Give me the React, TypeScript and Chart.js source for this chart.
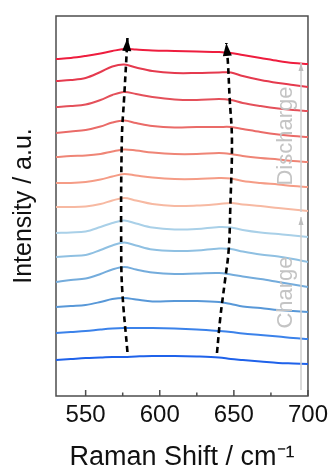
import React, { useEffect, useRef } from "react";
import { Chart, registerables } from "chart.js";

Chart.register(...registerables);

// Raman shift sampling positions (cm-1)
const ramanShift = [530, 540, 550, 560, 568, 576, 584, 595, 610, 625, 640, 648, 656, 668, 680, 690, 700];

// Spectra, stacked (arbitrary intensity incl. offset), bottom (s01) to top (s13)
const s01 = [36, 37, 38, 38.5, 39, 39, 39.5, 40, 40, 39.5, 38.5, 37, 36, 34.5, 33, 32.5, 32];
const s02 = [63, 64, 65, 66.5, 67.5, 68, 68, 68, 67.5, 66.5, 65, 64, 62.5, 61, 59.5, 58, 57];
const s03 = [89, 90, 91, 94, 97, 98, 96.5, 94.5, 95, 95, 94, 92, 89.5, 88, 86, 85, 84];
const s04 = [114, 116, 117.5, 122, 126.5, 129, 126.5, 123.5, 122, 122.5, 123, 121.5, 119.5, 117, 114, 111.5, 109];
const s05 = [139, 140, 141, 146, 150.5, 153.5, 150.5, 146.5, 145, 145.5, 147.5, 147, 144.5, 141.5, 139.5, 137, 134];
const s06 = [163, 163.5, 164.5, 169, 173, 175.5, 172.5, 168.5, 166.5, 167, 169, 168.5, 166, 163.5, 162, 160.5, 159];
const s07 = [189, 189, 189.5, 192, 195.5, 198, 195.5, 192, 190, 190.5, 192, 193, 191.5, 190, 188, 186.5, 185];
const s08 = [213, 213, 214, 216.5, 219.5, 222, 220.5, 218.5, 217, 217, 218, 217.5, 215, 213, 211.5, 210, 209];
const s09 = [239, 240, 240.5, 242, 244.5, 246.5, 245.5, 243.5, 242, 242, 243, 242, 240, 238, 236.5, 235, 234];
const s10 = [263, 264.5, 266, 269.5, 273.5, 275.5, 273, 270, 268.5, 269, 269, 269, 267, 264, 261.5, 260, 259];
const s11 = [289, 290, 291.5, 296, 301, 304, 302, 299, 296.5, 296, 297, 296, 293, 290, 287.5, 286, 285];
const s12 = [315, 316, 318, 324, 329.5, 331.5, 328.5, 325, 323, 323, 323.5, 323.5, 320, 316, 313, 311, 309];
const s13 = [337, 338, 340, 342.5, 345, 347, 346.5, 345.5, 345, 344.5, 344, 343, 341, 338, 335, 333, 332];

const spectra = [s01, s02, s03, s04, s05, s06, s07, s08, s09, s10, s11, s12, s13];
const spectrumColors = [
  "#1f62ea", "#3b82ea", "#5898d8", "#74acdc", "#8fc0e2", "#a9d0e8",
  "#f7b9a2", "#f59c86", "#ef8576", "#ea6b68", "#e4505a", "#e53a4e", "#ee1d3e",
];

// Axis ticks
const xTickValues = [550, 600, 650, 700];
const xMinorTickValues = [575, 625, 675];

// Dashed guide arrows (peak shift), bottom to top
const leftArrowX = [578.2, 574.8, 574.0, 574.4, 576.0, 577.3, 578.2];
const leftArrowY = [44, 103, 141, 256, 299, 333, 358];
const rightArrowX = [638.6, 640.9, 643.8, 646.5, 647.6, 648.7, 647.1, 646.0, 644.9];
const rightArrowY = [43, 79, 113, 146, 189, 256, 299, 333, 353];

// Charge / discharge direction arrows
const sideArrowX = [695.3, 695.3];
const chargeArrowY = [6, 179];
const dischargeArrowY = [184, 333];
const sideLabelX = 689.3;
const chargeLabelY = 103.5;
const dischargeLabelY = 260;

const FONT = '"Liberation Sans", Arial, Helvetica, sans-serif';

const decorPlugin = {
  id: "decor",
  beforeDatasetsDraw(chart: any) {
    const { ctx, chartArea: a, scales } = chart;
    const xs = scales.x;
    ctx.save();
    ctx.strokeStyle = "#4d4d4d";
    ctx.lineWidth = 1.5;
    ctx.strokeRect(a.left, a.top, a.right - a.left, a.bottom - a.top);
    ctx.beginPath();
    xTickValues.forEach((v) => {
      const px = xs.getPixelForValue(v);
      ctx.moveTo(px, a.bottom);
      ctx.lineTo(px, a.bottom - 6);
    });
    xMinorTickValues.forEach((v) => {
      const px = xs.getPixelForValue(v);
      ctx.moveTo(px, a.bottom);
      ctx.lineTo(px, a.bottom - 3.5);
    });
    ctx.stroke();
    ctx.restore();
  },
  afterDatasetsDraw(chart: any) {
    const { ctx, scales } = chart;
    ctx.save();
    chart.data.datasets.forEach((ds: any, i: number) => {
      if (!ds.arrowHead) return;
      const pts = chart.getDatasetMeta(i).data;
      const p = pts[pts.length - 1];
      const q = pts[pts.length - 2];
      const ang = Math.atan2(p.y - q.y, p.x - q.x);
      const { len, half, color } = ds.arrowHead;
      ctx.setLineDash([]);
      ctx.fillStyle = color;
      ctx.beginPath();
      ctx.moveTo(p.x, p.y);
      ctx.lineTo(p.x - len * Math.cos(ang) + half * Math.sin(ang), p.y - len * Math.sin(ang) - half * Math.cos(ang));
      ctx.lineTo(p.x - len * Math.cos(ang) - half * Math.sin(ang), p.y - len * Math.sin(ang) + half * Math.cos(ang));
      ctx.closePath();
      ctx.fill();
    });
    // side labels
    ctx.fillStyle = "#c4c4c4";
    ctx.font = "22px " + FONT;
    ctx.textAlign = "center";
    ctx.textBaseline = "alphabetic";
    const lx = scales.x.getPixelForValue(sideLabelX);
    [["Discharge", dischargeLabelY], ["Charge", chargeLabelY]].forEach(([t, yv]) => {
      ctx.save();
      ctx.translate(lx, scales.y.getPixelForValue(yv as number));
      ctx.rotate(-Math.PI / 2);
      ctx.fillText(t as string, 0, 0);
      ctx.restore();
    });
    ctx.restore();
  },
};

function zip(xs: number[], ys: number[]) {
  return xs.map((x, i) => ({ x, y: ys[i] }));
}

export default function App() {
  const ref = useRef<HTMLCanvasElement>(null);
  useEffect(() => {
    if (!ref.current) return;
    const datasets: any[] = [];
    datasets.push({
      data: zip(leftArrowX, leftArrowY),
      borderColor: "#000",
      borderWidth: 2.6,
      borderDash: [6, 4],
      pointRadius: 0,
      tension: 0.4,
      order: 0,
      arrowHead: { len: 13, half: 4.5, color: "#000" },
    });
    datasets.push({
      data: zip(rightArrowX, rightArrowY),
      borderColor: "#000",
      borderWidth: 2.6,
      borderDash: [6, 4],
      pointRadius: 0,
      tension: 0.4,
      order: 0,
      arrowHead: { len: 13, half: 4.5, color: "#000" },
    });
    datasets.push({
      data: zip(sideArrowX, chargeArrowY),
      borderColor: "#cfcfcf",
      borderWidth: 1.5,
      pointRadius: 0,
      order: 0,
      arrowHead: { len: 8, half: 2.5, color: "#bdbdbd" },
    });
    datasets.push({
      data: zip(sideArrowX, dischargeArrowY),
      borderColor: "#cfcfcf",
      borderWidth: 1.5,
      pointRadius: 0,
      order: 0,
      arrowHead: { len: 8, half: 2.5, color: "#bdbdbd" },
    });
    spectra.forEach((s, i) => {
      datasets.push({
        data: zip(ramanShift, s),
        borderColor: spectrumColors[i],
        borderWidth: 2,
        pointRadius: 0,
        tension: 0.35,
        order: 1,
      });
    });

    const chart = new Chart(ref.current, {
      type: "line",
      data: { datasets },
      options: {
        animation: false,
        responsive: false,
        layout: { padding: { top: 16, right: 23, left: 0, bottom: 0 } },
        plugins: { legend: { display: false }, tooltip: { enabled: false } },
        scales: {
          x: {
            type: "linear",
            min: 530,
            max: 700,
            grid: { display: false, drawTicks: false },
            border: { display: false },
            afterBuildTicks: (scale: any) => {
              scale.ticks = xTickValues.map((v) => ({ value: v }));
            },
            afterFit: (scale: any) => {
              scale.height = 78;
            },
            ticks: {
              padding: 5,
              color: "#111",
              font: { family: FONT, size: 24 },
              maxRotation: 0,
              callback: (v: any) => String(v),
            },
            title: {
              display: true,
              text: "Raman Shift / cm\u207B\u00B9",
              color: "#111",
              font: { family: FONT, size: 27 },
              padding: { top: 0, bottom: 0 },
            },
          },
          y: {
            type: "linear",
            min: 0,
            max: 380,
            grid: { display: false, drawTicks: false },
            border: { display: false },
            ticks: { display: false },
            afterFit: (scale: any) => {
              scale.width = 56;
            },
            title: {
              display: true,
              text: "Intensity / a.u.",
              color: "#111",
              font: { family: FONT, size: 25 },
              padding: { top: 9, bottom: 0 },
            },
          },
        },
      },
      plugins: [decorPlugin],
    } as any);
    return () => chart.destroy();
  }, []);

  return (
    <div style={{ position: "absolute", left: 0, top: 0, width: 333, height: 474, background: "#fff" }}>
      <canvas ref={ref} width={333} height={474} />
    </div>
  );
}
